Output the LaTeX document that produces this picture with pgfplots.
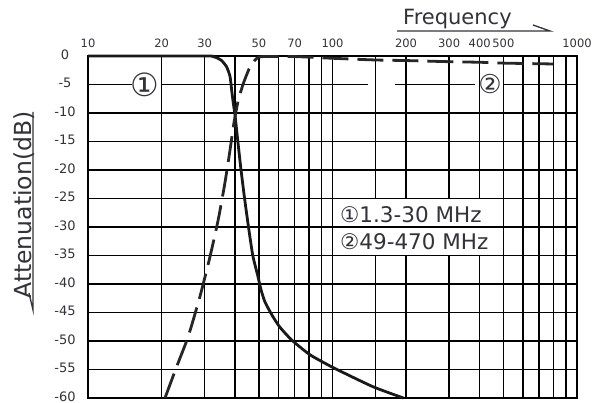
\documentclass[border=0pt]{standalone}
\usepackage{pgfplots}
\pgfplotsset{compat=1.18}
\usepackage{fontspec}
\setmainfont{DejaVu Sans}
\definecolor{txt}{RGB}{50,50,58}
\begin{document}
\begin{tikzpicture}
\path[use as bounding box] (-88pt,-5pt) rectangle (504pt,398pt);
\begin{axis}[
  at={(0pt,0pt)}, anchor=south west,
  scale only axis, width=489pt, height=342pt,
  xmode=log, log basis x=10,
  xmin=10, xmax=1000, ymin=-60, ymax=0,
  clip=false,
  axis line style={line width=1.6pt, black},
  xtick={10,20,30,40,50,60,70,80,90,100,150,200,300,400,500,600,700,800,900,1000},
  xticklabels={10,20,30,{},50,{},70,{},{},100,{},200,300,400,500,{},{},{},{},1000},
  xticklabel pos=upper,
  ytick={-60,-55,...,0},
  yticklabels={-60,-55,-50,-45,-40,-35,-30,-25,-20,-15,-10,-5,0},
  major tick length=0pt,
  xmajorgrids,
  grid style={line width=1.5pt, black},
  xticklabel style={font=\fontsize{11.5}{11.5}\selectfont, text=txt, anchor=base, inner sep=0pt, yshift=8pt},
  yticklabel style={font=\fontsize{13}{13}\selectfont, text=txt, anchor=center, inner sep=0pt, xshift=-23pt, yshift=1.5pt},
]
% white box behind the band legend
\fill[white] (axis cs:102.5,-25) rectangle (axis cs:485,-35);
% horizontal grid lines
\pgfplotsinvokeforeach{-10,-15,-20,-25,-30,-35,-40,-45,-50,-55}{
  \draw[line width=1.1pt, black] (axis cs:10,#1) -- (axis cs:1000,#1);
}
% the -5 line is broken round the band marks
\draw[line width=1.1pt, black] (axis cs:10,-5) -- (axis cs:15.1,-5);
\draw[line width=1.1pt, black] (axis cs:20,-5) -- (axis cs:140,-5);
\draw[line width=1.1pt, black] (axis cs:180,-5) -- (axis cs:383,-5);
\draw[line width=1.1pt, black] (axis cs:500,-5) -- (axis cs:1000,-5);

% low-pass (band 1)
\addplot[line width=2.8pt, black!90, smooth, tension=0.35] coordinates {
  (10,0) (30,0) (32.5,-0.1) (33.6,-0.3) (35.2,-0.8) (36.9,-1.9) (38.1,-3.6)
  (38.7,-6.0) (39.3,-8.3) (39.9,-10.2) (40.8,-14.1) (42.1,-19.4) (43.6,-24.7)
  (45.3,-29.9) (47.2,-35.0) (49.5,-38.6) (51,-41) (53,-43.2) (57,-45.7)
  (61,-47.6) (68,-49.8) (80.8,-52.4) (101,-54.7) (146,-58) (195,-60)
};
% high-pass (band 2)
\addplot[line width=2.8pt, black!85, dash pattern=on 26pt off 9pt, smooth, tension=0.35] coordinates {
  (20.65,-60) (23.05,-54.5) (25.7,-49.2) (28.7,-42.2) (31.55,-35.2) (34.1,-28.7)
  (36.3,-22.3) (38.1,-16.5) (39.3,-12.4) (40.2,-10.0) (41.2,-7.7) (43.2,-4.8)
  (46.0,-1.9) (49.0,-0.4) (52,-0.1) (70,-0.1) (100,-0.4) (150,-0.7) (200,-0.8)
  (300,-1.0) (400,-1.1) (500,-1.25) (800,-1.4)
};

\node[font=\fontsize{32}{32}\selectfont, text=txt, inner sep=0pt] at (axis cs:17.1,-5) {①};
\node[font=\fontsize{26}{26}\selectfont, text=txt, inner sep=0pt] at (axis cs:441,-5) {②};
\end{axis}

% band legend
\node[anchor=base west, inner sep=0pt, font=\fontsize{21.5}{21.5}\selectfont, text=txt] at (252pt,175.3pt) {①1.3-30 MHz};
\node[anchor=base west, inner sep=0pt, font=\fontsize{21.5}{21.5}\selectfont, text=txt] at (252pt,148pt) {②49-470 MHz};

% x axis title with its arrow
\node[anchor=base west, inner sep=0pt, font=\fontsize{21}{21}\selectfont, text=txt] at (315pt,373pt) {Frequency};
\draw[line width=1.3pt, txt] (309pt,367pt) -- (462pt,367pt) -- (445pt,373pt);

% y axis title with its arrow
\node[rotate=90, inner sep=0pt, font=\fontsize{23.5}{23.5}\selectfont, text=txt] at (-64pt,193pt) {Attenuation(dB)};
\draw[line width=1.3pt, txt] (-55pt,286pt) -- (-55pt,88pt) -- (-59pt,105pt);
\end{tikzpicture}
\end{document}
